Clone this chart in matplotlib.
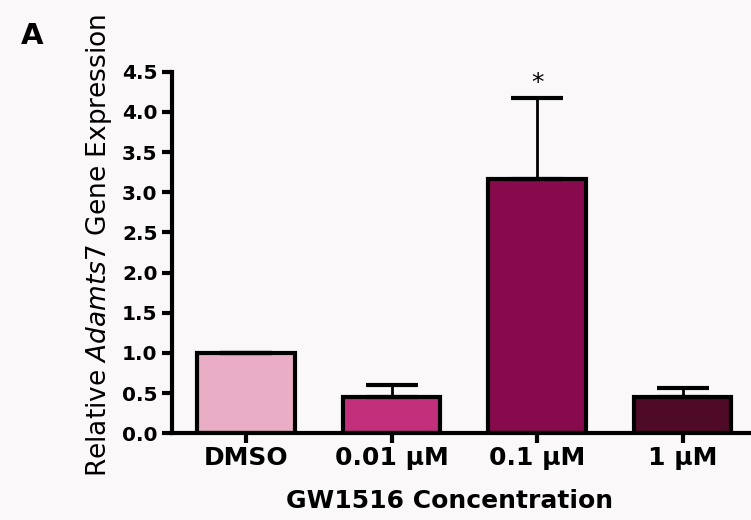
import matplotlib
matplotlib.use('Agg')
import matplotlib.pyplot as plt
import numpy as np

# data
groups = ['DMSO', '0.01 μM', '0.1 μM', '1 μM']
means = [1.0, 0.45, 3.17, 0.45]
sem_up = [0.0, 0.15, 1.00, 0.11]
colors = ['#E9AEC6', '#C2307C', '#870A4C', '#4E0A26']
yticks = [0.0, 0.5, 1.0, 1.5, 2.0, 2.5, 3.0, 3.5, 4.0, 4.5]

plt.rcParams['font.family'] = 'DejaVu Sans'

fig = plt.figure(figsize=(7.51, 5.20), dpi=100, facecolor='#FBF8F9')
ax = fig.add_axes([0.229, 0.167, 0.771, 0.695])
ax.set_facecolor('none')

x = np.arange(len(groups))
ax.bar(x, means, width=0.67, color=colors, edgecolor='black', linewidth=3, zorder=2)
ax.errorbar(x, means, yerr=[np.zeros(len(means)), sem_up], fmt='none',
            ecolor='black', elinewidth=2, capsize=19, capthick=3, zorder=3)

# significance marker
ax.text(x[2], means[2] + sem_up[2] + 0.04, '*', ha='center', va='bottom', fontsize=18)

ax.set_xlim(-0.51, 3.47)
ax.set_ylim(0, 4.5)
ax.set_yticks(yticks)
ax.set_yticklabels(['%.1f' % v for v in yticks])
ax.set_xticks(x)
ax.set_xticklabels(groups)

for s in ['top', 'right']:
    ax.spines[s].set_visible(False)
for s in ['left', 'bottom']:
    ax.spines[s].set_linewidth(3)
ax.tick_params(axis='both', width=3, length=7.5)
ax.tick_params(axis='y', labelsize=14.5, pad=3)
ax.tick_params(axis='x', labelsize=18, pad=2)
for lbl in ax.get_xticklabels() + ax.get_yticklabels():
    lbl.set_fontweight('bold')

ax.set_xlabel('GW1516 Concentration', fontsize=18, fontweight='bold')
ax.xaxis.set_label_coords(0.48, -0.155)
ax.set_ylabel(r'Relative $\it{Adamts7}$ Gene Expression', fontsize=19)
ax.yaxis.set_label_coords(-0.10, 0.52)

fig.text(0.028, 0.915, 'A', fontsize=21, fontweight='bold')

fig.savefig('out.png', dpi=100, facecolor=fig.get_facecolor())
